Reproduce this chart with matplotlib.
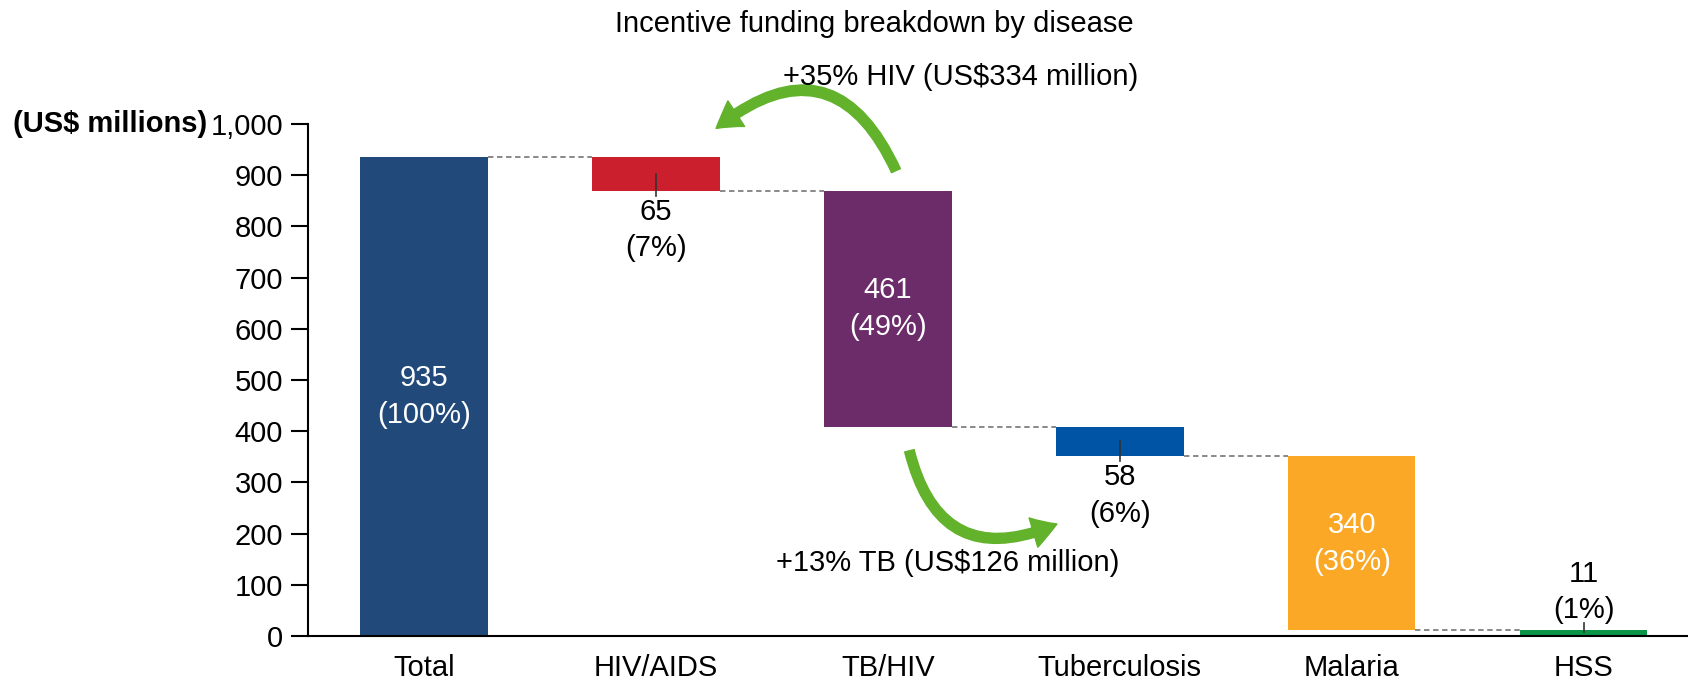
import numpy as np
import matplotlib.pyplot as plt
from matplotlib.patches import FancyArrowPatch
from matplotlib.ticker import FuncFormatter

plt.rcParams['font.family'] = ['Liberation Sans', 'DejaVu Sans']

categories = ['Total', 'HIV/AIDS', 'TB/HIV', 'Tuberculosis', 'Malaria', 'HSS']
values = [935, 65, 461, 58, 340, 11]
shares = ['100%', '7%', '49%', '6%', '36%', '1%']
colors = ['#214a7b', '#cc1f2e', '#6c2b69', '#0054a6', '#fba826', '#0a9447']
inside = [True, False, True, False, True, False]

hiv_note = '+35% HIV (US$334 million)'
tb_note = '+13% TB (US$126 million)'

# waterfall bottoms
bottoms = [0]
running = values[0]
for v in values[1:]:
    bottoms.append(running - v)
    running -= v
tops = [b + v for b, v in zip(bottoms, values)]

fs = 21

fig = plt.figure(figsize=(16.88, 6.85), dpi=100)
ax = fig.add_axes([0.1825, 0.0715, 0.8175, 0.7475])

x = np.arange(len(categories))
w = 0.55
ax.bar(x, values, bottom=bottoms, width=w, color=colors, zorder=2)

# connectors
for i in range(len(categories) - 1):
    level = bottoms[i] if i > 0 else tops[i]
    ax.plot([x[i] + w / 2, x[i + 1] - w / 2], [level, level], ls='--',
            color='#808080', lw=1.3, dashes=(3, 2), zorder=1)

# labels
for i in range(len(categories)):
    txt = f'{values[i]}\n({shares[i]})'
    if inside[i]:
        ax.text(x[i], bottoms[i] + values[i] / 2, txt, color='white', ha='center',
                va='center', fontsize=fs, linespacing=1.38)
    elif i == len(categories) - 1:
        ax.plot([x[i], x[i]], [tops[i] - 3, tops[i] + 14], color='#333333', lw=1.2, zorder=3)
        ax.text(x[i], tops[i] + 12, txt, ha='center', va='bottom', fontsize=fs,
                linespacing=1.38)
    else:
        mid = bottoms[i] + values[i] / 2
        ax.plot([x[i], x[i]], [mid, bottoms[i] - 10], color='#333333', lw=1.2, zorder=3)
        ax.text(x[i], bottoms[i] - 14, txt, ha='center', va='top', fontsize=fs,
                linespacing=1.38)

# curved arrows
a1 = FancyArrowPatch((2.04, 904), (1.25, 988), connectionstyle='arc3,rad=0.65',
                     arrowstyle='simple,head_width=1.1,head_length=0.9,tail_width=0.35',
                     mutation_scale=20, color='#62b22b', clip_on=False, zorder=4)
ax.add_patch(a1)
a2 = FancyArrowPatch((2.09, 367), (2.74, 221), connectionstyle='arc3,rad=0.6',
                     arrowstyle='simple,head_width=1.1,head_length=0.9,tail_width=0.35',
                     mutation_scale=20, color='#62b22b', clip_on=False, zorder=4)
ax.add_patch(a2)
fig.text(961 / 1688, 1 - 77 / 685, hiv_note, ha='center', va='center', fontsize=fs)
fig.text(948 / 1688, 1 - 563 / 685, tb_note, ha='center', va='center', fontsize=fs)

fig.text(874 / 1688, 1 - 24 / 685, 'Incentive funding breakdown by disease',
         ha='center', va='center', fontsize=21)
fig.text(13 / 1688, 1 - 124 / 685, '(US$ millions)', ha='left', va='center',
         fontsize=fs, fontweight='bold')

ax.set_xlim(-0.5, 5.45)
ax.set_ylim(0, 1000)
ax.set_xticks(x)
ax.set_xticklabels(categories, fontsize=fs)
ax.set_yticks(np.arange(0, 1001, 100))
ax.yaxis.set_major_formatter(FuncFormatter(lambda v, p: f'{int(v):,}'))
ax.tick_params(axis='y', labelsize=fs, length=12, width=1.5, pad=6)
ax.tick_params(axis='x', length=0, pad=13)
for s in ['top', 'right']:
    ax.spines[s].set_visible(False)
for s in ['left', 'bottom']:
    ax.spines[s].set_linewidth(1.5)

fig.savefig('out.png', dpi=100)
